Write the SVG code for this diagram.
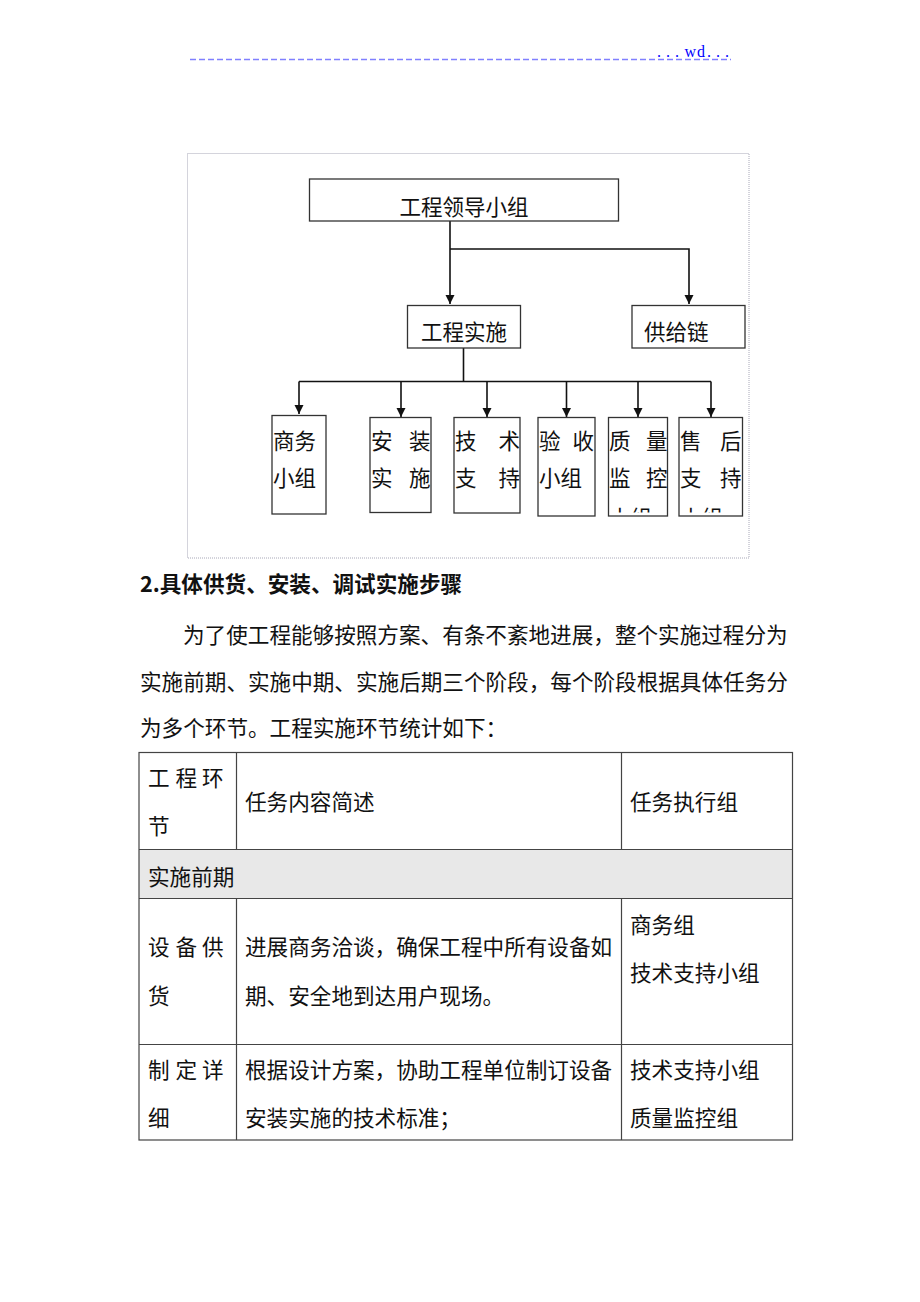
<svg xmlns="http://www.w3.org/2000/svg" width="920" height="1302" viewBox="0 0 920 1302">
<style>
.box{fill:#fff;stroke:#333;stroke-width:1.3}
.t{font-family:"Noto Sans CJK SC","Noto Sans",sans-serif;fill:#111;font-size:21.5px}
.p{font-family:"Noto Sans CJK SC","Noto Sans",sans-serif;fill:#111;font-size:21.6px}
.conn{fill:none;stroke:#111;stroke-width:1.6}
.grid{stroke:#444;stroke-width:1.2;fill:none}
</style>
<defs>
<marker id="arr" markerUnits="userSpaceOnUse" markerWidth="10" markerHeight="10" refX="9" refY="4.5" orient="auto">
<path d="M0,0 L9,4.5 L0,9 Z" fill="#111"/>
</marker>
<clipPath id="c1"><rect x="609" y="418" width="58" height="94.5"/></clipPath>
<clipPath id="c2"><rect x="679.5" y="418" width="62.5" height="94.5"/></clipPath>
</defs>
<rect width="920" height="1302" fill="#fff"/>

<g id="header">
<line x1="190" y1="59.5" x2="731" y2="59.5" stroke="#8080ff" stroke-width="1.5" stroke-dasharray="6 3"/>
<text x="657 666 675 684.5 697 707 716 725" y="56.5" font-family="Liberation Serif, serif" font-size="16" fill="#0000ff">...wd...</text>
</g>

<rect id="frame" x="187.5" y="153.5" width="561.5" height="404.5" fill="none" stroke="#a8a8b8" stroke-width="1" stroke-dasharray="1 1"/>

<g id="connectors">
<path class="conn" d="M450,221 V304" marker-end="url(#arr)"/>
<path class="conn" d="M450,249 H689 V304" marker-end="url(#arr)"/>
<path class="conn" d="M463.5,348 V381.5"/>
<path class="conn" d="M299,381.5 H711"/>
<path class="conn" d="M299,381.5 V414" marker-end="url(#arr)"/>
<path class="conn" d="M401,381.5 V417" marker-end="url(#arr)"/>
<path class="conn" d="M487,381.5 V417" marker-end="url(#arr)"/>
<path class="conn" d="M566.5,381.5 V417" marker-end="url(#arr)"/>
<path class="conn" d="M638,381.5 V417" marker-end="url(#arr)"/>
<path class="conn" d="M711,381.5 V417" marker-end="url(#arr)"/>
</g>

<g id="n_lead">
<rect class="box" x="309.5" y="179" width="309" height="42"/>
<text class="t" x="464" y="215" text-anchor="middle">工程领导小组</text>
</g>
<g id="n_impl">
<rect class="box" x="407.5" y="305.5" width="113" height="42.5"/>
<text class="t" x="464" y="340" text-anchor="middle">工程实施</text>
</g>
<g id="n_supply">
<rect class="box" x="632" y="305.5" width="113" height="42.5"/>
<text class="t" x="644" y="340">供给链</text>
</g>

<g id="n_biz">
<rect class="box" x="272" y="415.5" width="54" height="98.5"/>
<text class="t" font-size="21" x="273" y="449">商务</text>
<text class="t" font-size="21" x="273" y="486">小组</text>
</g>
<g id="n_install">
<rect class="box" x="370" y="417.5" width="61" height="95"/>
<text class="t" x="371 409" y="449">安装</text>
<text class="t" x="371 409" y="486">实施</text>
</g>
<g id="n_tech">
<rect class="box" x="454" y="417.5" width="66" height="95.5"/>
<text class="t" x="455 498.5" y="449">技术</text>
<text class="t" x="455 498.5" y="486">支持</text>
</g>
<g id="n_accept">
<rect class="box" x="538" y="417.5" width="57" height="98.5"/>
<text class="t" x="539 572.5" y="449">验收</text>
<text class="t" x="539" y="486">小组</text>
</g>
<g id="n_quality">
<rect class="box" x="608.5" y="417.5" width="59" height="98.5"/>
<text class="t" x="609 646" y="449">质量</text>
<text class="t" x="609 646" y="486">监控</text>
<text class="t" x="609" y="526" clip-path="url(#c1)">小组</text>
</g>
<g id="n_after">
<rect class="box" x="679" y="417.5" width="63.5" height="98.5"/>
<text class="t" x="680 720" y="449">售后</text>
<text class="t" x="680 720" y="486">支持</text>
<text class="t" x="680" y="526" clip-path="url(#c2)">小组</text>
</g>

<g id="body">
<text class="p" x="140" y="592" font-weight="bold">2.具体供货、安装、调试实施步骤</text>
<text class="p" x="183" y="642.5">为了使工程能够按照方案、有条不紊地进展，整个实施过程分为</text>
<text class="p" x="140" y="689.5">实施前期、实施中期、实施后期三个阶段，每个阶段根据具体任务分</text>
<text class="p" x="140" y="736">为多个环节。工程实施环节统计如下：</text>
</g>

<g id="table">
<rect x="139" y="849.5" width="653.5" height="49" fill="#e8e8e8"/>
<rect class="grid" x="139" y="752.5" width="653.5" height="387.5"/>
<line class="grid" x1="139" y1="849.5" x2="792.5" y2="849.5"/>
<line class="grid" x1="139" y1="898.5" x2="792.5" y2="898.5"/>
<line class="grid" x1="139" y1="1044.5" x2="792.5" y2="1044.5"/>
<line class="grid" x1="236.5" y1="752.5" x2="236.5" y2="849.5"/>
<line class="grid" x1="621.5" y1="752.5" x2="621.5" y2="849.5"/>
<line class="grid" x1="236.5" y1="898.5" x2="236.5" y2="1140"/>
<line class="grid" x1="621.5" y1="898.5" x2="621.5" y2="1140"/>

<text class="p" x="148 175.5 202" y="786">工程环</text>
<text class="p" x="148" y="834">节</text>
<text class="p" x="245" y="810">任务内容简述</text>
<text class="p" x="630" y="810">任务执行组</text>

<text class="p" x="148" y="885">实施前期</text>

<text class="p" x="148 175.5 202" y="955">设备供</text>
<text class="p" x="148" y="1004">货</text>
<text class="p" x="245" y="955">进展商务洽谈，确保工程中所有设备如</text>
<text class="p" x="245" y="1004">期、安全地到达用户现场。</text>
<text class="p" x="630" y="933">商务组</text>
<text class="p" x="630" y="981">技术支持小组</text>

<text class="p" x="148 175.5 202" y="1078">制定详</text>
<text class="p" x="148" y="1126">细</text>
<text class="p" x="245" y="1078">根据设计方案，协助工程单位制订设备</text>
<text class="p" x="245" y="1126">安装实施的技术标准；</text>
<text class="p" x="630" y="1078">技术支持小组</text>
<text class="p" x="630" y="1126">质量监控组</text>
</g>
</svg>
